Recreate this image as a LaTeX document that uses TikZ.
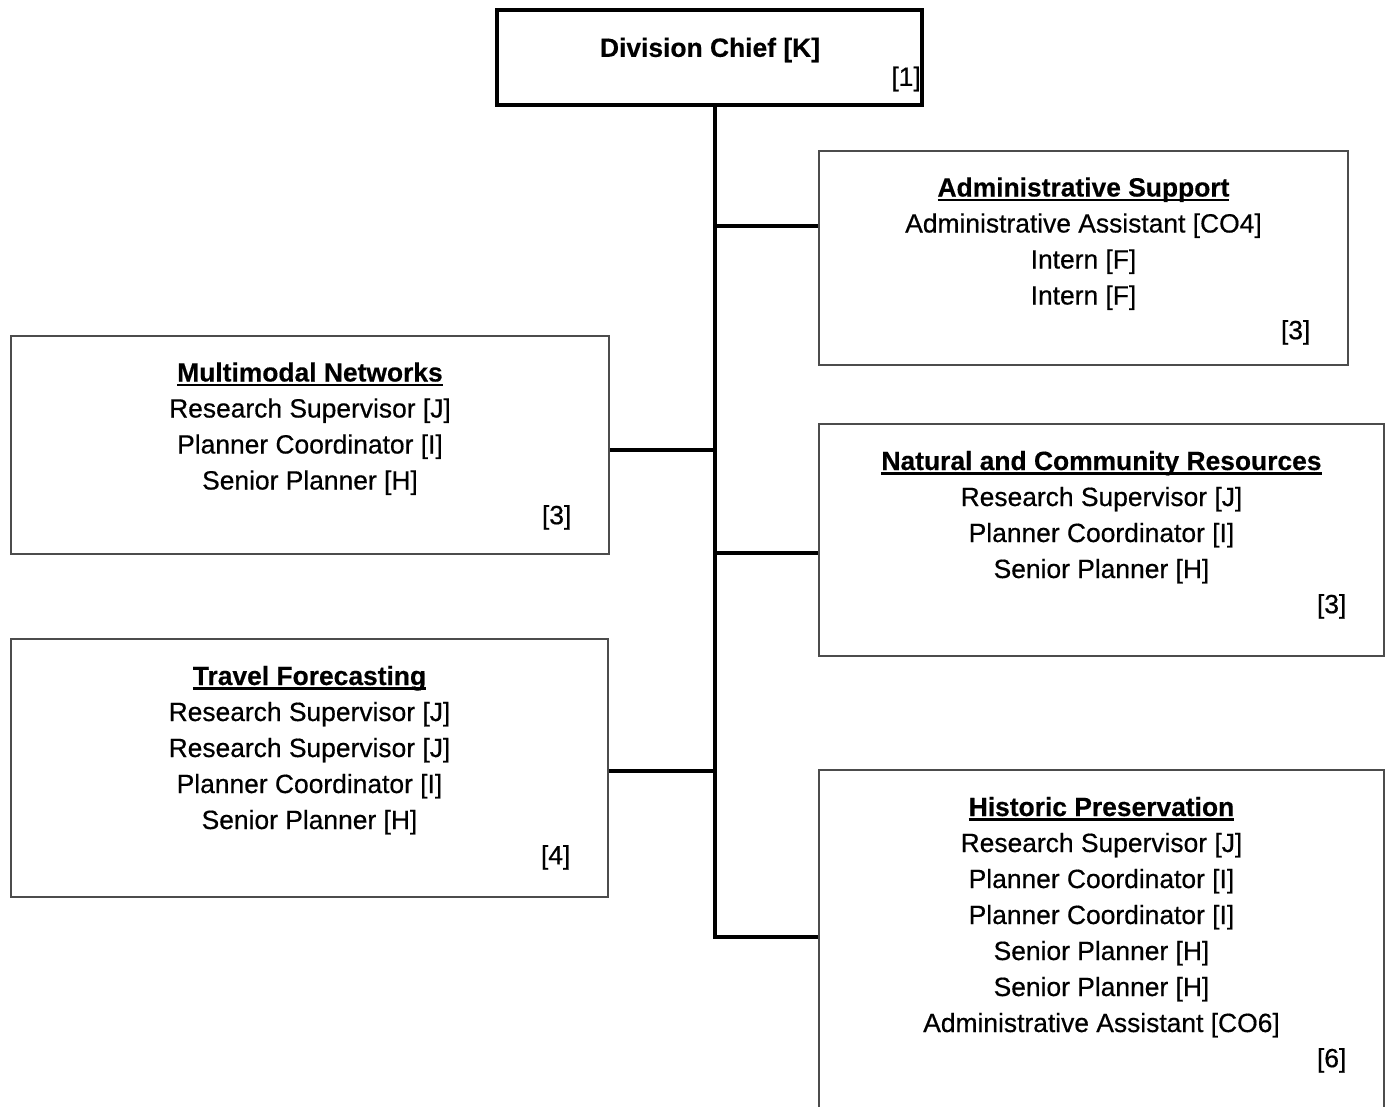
\documentclass[tikz,border=0pt]{standalone}
\usepackage{fontspec}
\setmainfont{Liberation Sans}[UprightFeatures={FakeBold=0.5}, BoldFeatures={FakeBold=0.4}]
\usetikzlibrary{calc}
% bold, underlined section heading
\newcommand\ulhead[1]{\setbox0\hbox{\bfseries #1}\leavevmode\rlap{\rule[-3.4pt]{\wd0}{1.9pt}}\box0}
\begin{document}
\begin{tikzpicture}[x=0.75pt,y=-0.75pt,
  unitbox/.style={draw=black!70, line width=0.9pt, fill=white, inner sep=0pt},
  chiefbox/.style={draw=black, line width=3pt, fill=white, inner sep=0pt},
  staff/.style={align=center, inner sep=0pt, anchor=north, font=\fontsize{19.8}{27}\selectfont},
  tally/.style={inner sep=0pt, anchor=east, font=\fontsize{19.8}{27}\selectfont},
  link/.style={line width=2.6pt},
]
\useasboundingbox (0,0) rectangle (1390,1107);
\clip (0,0) rectangle (1390,1107);

% junctions on the trunk
\coordinate (ja) at (715,226);
\coordinate (jm) at (715,450);
\coordinate (jn) at (715,553);
\coordinate (jt) at (715,771);
\coordinate (jh) at (715,937);

% boxes
\node[chiefbox, minimum width=318.4pt, minimum height=71.25pt] (chief) at (709.75,57) {};
\node[unitbox, minimum width=396.75pt, minimum height=160.5pt] (admin) at (1083.5,258) {};
\node[unitbox, minimum width=448.5pt, minimum height=163.5pt] (multi) at (310,445) {};
\node[unitbox, minimum width=423.75pt, minimum height=174pt] (natural) at (1101.5,540) {};
\node[unitbox, minimum width=447.75pt, minimum height=193.5pt] (travel) at (309.5,768) {};
\node[unitbox, minimum width=423.75pt, minimum height=262.5pt] (hist) at (1101.5,945) {};

% connectors
\draw[link] (chief.south -| jh) -- (jh) -- (jh -| hist.west);
\draw[link] (ja) -- (ja -| admin.west);
\draw[link] (jm) -- (jm -| multi.east);
\draw[link] (jn) -- (jn -| natural.west);
\draw[link] (jt) -- (jt -| travel.east);

% division chief
\node[inner sep=0pt, font=\fontsize{19.8}{27}\selectfont\bfseries] (chieftitle) at (710,50) {Division Chief [K]};
\node[tally] (chiefn) at (921,79) {[1]};

% unit contents
\node[staff] (admintxt) at ($(admin.north)+(0,26.7)$)
  {\ulhead{Administrative Support}\\Administrative Assistant [CO4]\\Intern [F]\\Intern [F]};
\node[tally] (adminn) at ($(admin.north east)+(-38,182)$) {[3]};

\node[staff] (multitxt) at ($(multi.north)+(0,26.7)$)
  {\ulhead{Multimodal Networks}\\Research Supervisor [J]\\Planner Coordinator [I]\\Senior Planner [H]};
\node[tally] (multin) at ($(multi.north east)+(-38,182)$) {[3]};

\node[staff] (naturaltxt) at ($(natural.north)+(0,27.2)$)
  {\ulhead{Natural and Community Resources}\\Research Supervisor [J]\\Planner Coordinator [I]\\Senior Planner [H]};
\node[tally] (naturaln) at ($(natural.north east)+(-38,183)$) {[3]};

\node[staff] (traveltxt) at ($(travel.north)+(0,27.2)$)
  {\ulhead{Travel Forecasting}\\Research Supervisor [J]\\Research Supervisor [J]\\Planner Coordinator [I]\\Senior Planner [H]};
\node[tally] (traveln) at ($(travel.north east)+(-38,219)$) {[4]};

\node[staff] (histtxt) at ($(hist.north)+(0,27.2)$)
  {\ulhead{Historic Preservation}\\Research Supervisor [J]\\Planner Coordinator [I]\\Planner Coordinator [I]\\Senior Planner [H]\\Senior Planner [H]\\Administrative Assistant [CO6]};
\node[tally] (histn) at ($(hist.north east)+(-38,291)$) {[6]};
\end{tikzpicture}
\end{document}
